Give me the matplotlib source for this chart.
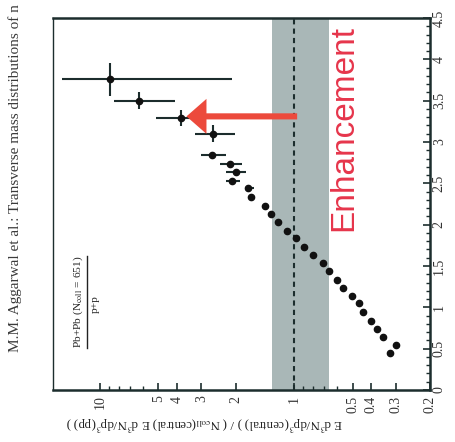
"""
Rotated scan of a central / p+p spectrum ratio vs transverse momentum.
The page is turned 90 degrees, so pT runs bottom -> top and the ratio
(log scale) runs right -> left.
"""
import numpy as np
import matplotlib
matplotlib.use("Agg")
import matplotlib.pyplot as plt
from matplotlib.lines import Line2D

# ──────────────────────────────────────────────────────────────────────────────
# Data
# ──────────────────────────────────────────────────────────────────────────────
pt = [3.76, 3.50, 3.29, 3.10, 2.84, 2.73, 2.64, 2.53, 2.44, 2.33,
      2.23, 2.13, 2.03, 1.92, 1.84, 1.73, 1.63, 1.54, 1.44, 1.33,
      1.23, 1.14, 1.05, 0.94, 0.83, 0.74, 0.64, 0.54, 0.45]
ratio = [8.89, 6.31, 3.80, 2.63, 2.66, 2.13, 1.98, 2.10, 1.72, 1.66,
         1.41, 1.31, 1.21, 1.09, 0.977, 0.889, 0.799, 0.710, 0.662, 0.602,
         0.561, 0.504, 0.464, 0.443, 0.403, 0.375, 0.350, 0.300, 0.322]
# error-bar ends in the ratio direction (only the first points have visible bars)
ratio_lo = [2.08, 4.12, 2.89, 2.01, 2.23, 1.85, 1.76, 1.91, 1.60]
ratio_hi = [15.7, 8.48, 5.16, 3.22, 3.03, 2.42, 2.23, 2.23, 1.80]
# pT bin half widths for the high-pT points
pt_err = [0.2, 0.1, 0.1, 0.1]

ratio_ticks = [10, 5, 4, 3, 2, 1, 0.5, 0.4, 0.3, 0.2]
ratio_ticklabels = ["10", "5", "4", "3", "2", "1", "0.5", "0.4", "0.3", "0.2"]
ratio_minor = [6, 7, 8, 9, 0.6, 0.7, 0.8, 0.9]
pt_ticks = [0, 0.5, 1, 1.5, 2, 2.5, 3, 3.5, 4, 4.5]
pt_ticklabels = ["0", "0.5", "1", "1.5", "2", "2.5", "3", "3.5", "4", "4.5"]

band = (0.66, 1.30)          # grey systematic band around unity
arrow_pt = 3.31
arrow_from, arrow_to = 0.965, 3.58

plt.rcParams["font.family"] = "serif"
plt.rcParams["font.serif"] = ["Liberation Serif", "DejaVu Serif"]
plt.rcParams["mathtext.fontset"] = "stix"

INK = "#1c2d2d"
RED_TXT = "#e6354b"
RED_ARR = "#ec4a3c"

W, H = 455, 442
fig = plt.figure(figsize=(W / 100, H / 100), dpi=100)
ax = fig.add_axes([53 / W, 1 - 390 / H, (430 - 53) / W, (390 - 18) / H])

# ──────────────────────────────────────────────────────────────────────────────
# Marks
# ──────────────────────────────────────────────────────────────────────────────
ax.axvspan(*band, color="#a9b7b7", lw=0, zorder=0)
ax.axvline(1.0, ls=(0, (2.5, 2.0)), lw=1.5, color=INK, zorder=1)

r = np.array(ratio)
n = len(r)
lo = np.array(ratio_lo + ratio[len(ratio_lo):])
hi = np.array(ratio_hi + ratio[len(ratio_hi):])
xerr = np.vstack([r - lo, hi - r])
yerr = np.array(pt_err + [0.0] * (n - len(pt_err)))
ax.errorbar(r, pt, xerr=xerr, yerr=yerr, fmt="o", ms=4.5, color="#111111",
            ecolor=INK, elinewidth=1.5, capsize=0, zorder=3)

ax.annotate("", xy=(arrow_to, arrow_pt), xytext=(arrow_from, arrow_pt),
            arrowprops=dict(arrowstyle="simple,head_length=0.72,head_width=1.26,tail_width=0.22",
                            mutation_scale=20, color=RED_ARR, lw=0,
                            shrinkA=0, shrinkB=0), zorder=4)

ax.text(0.554, 3.17, "Enhancement", rotation=90, ha="center", va="center",
        fontsize=24, family="Liberation Sans", color=RED_TXT, zorder=4)

# ──────────────────────────────────────────────────────────────────────────────
# Axes
# ──────────────────────────────────────────────────────────────────────────────
ax.set_xscale("log")
ax.set_xlim(17.4, 0.2)
ax.set_ylim(0, 4.5)

ax.set_xticks(ratio_ticks)
ax.set_xticklabels(ratio_ticklabels, rotation=90, ha="center", va="top")
ax.set_xticks(ratio_minor, minor=True)
ax.xaxis.set_minor_formatter(matplotlib.ticker.NullFormatter())

ax.yaxis.tick_right()
ax.set_yticks(pt_ticks)
ax.set_yticklabels(pt_ticklabels, rotation=90, ha="left", va="center")
ax.set_yticks(np.arange(0, 4.51, 0.1), minor=True)

ax.tick_params(which="both", direction="in", color=INK, labelcolor="#333333",
               labelsize=10)
ax.tick_params(which="major", length=5, width=1.2)
ax.tick_params(which="minor", length=3, width=1.0)
ax.tick_params(axis="x", pad=4)
ax.tick_params(axis="y", pad=2)

for side, s in ax.spines.items():
    s.set_color(INK)
    s.set_linewidth(1.0 if side == "left" else 1.8)

# ──────────────────────────────────────────────────────────────────────────────
# Page text
# ──────────────────────────────────────────────────────────────────────────────
fig.text(15 / W, 1 - 352 / H, "M.M. Aggarwal et al.: Transverse mass distributions of n",
         rotation=90, ha="center", va="bottom", fontsize=11, color="#3a3a3a")

fig.text(78 / W, 1 - 302 / H, r"Pb+Pb (N$_{\rm coll}$ = 651)", rotation=90,
         ha="center", va="center", fontsize=8.2, color="#222222")
fig.add_artist(Line2D([87 / W, 87 / W], [1 - 348 / H, 1 - 256 / H],
                      lw=1.0, color="#222222"))
fig.text(95 / W, 1 - 304 / H, "p+p", rotation=90, ha="center", va="center",
         fontsize=8.2, color="#222222")

fig.text(204 / W, 1 - 423 / H,
         r"E d$^3$N/dp$^3$(central) ) / ( N$_{\rm coll}$(central) E d$^3$N/dp$^3$(pp) )",
         rotation=180, ha="center", va="center", fontsize=9.3, color="#222222")

fig.savefig("out.png", dpi=100)
